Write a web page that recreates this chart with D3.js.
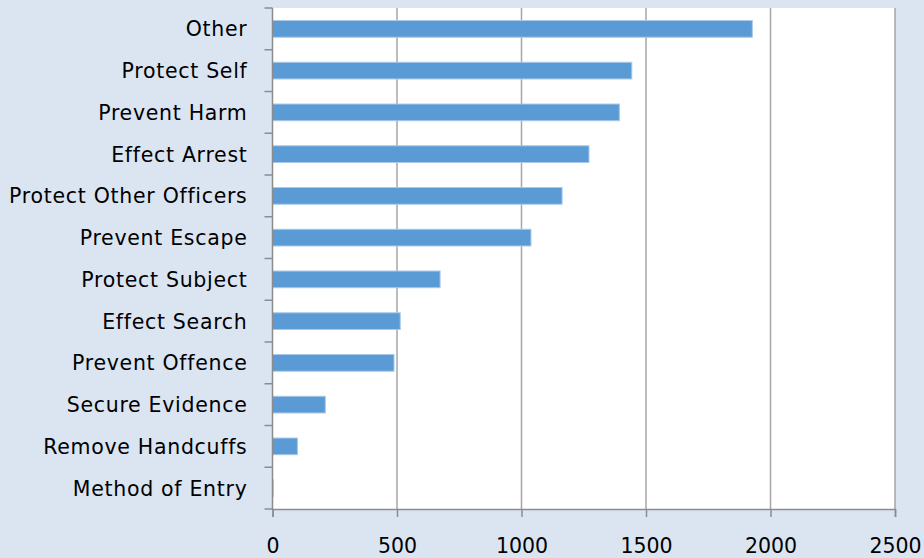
<!DOCTYPE html>
<html>
<head>
<meta charset="utf-8">
<script src="https://cdn.jsdelivr.net/npm/d3@7"></script>
<style>
  html, body { margin: 0; padding: 0; background: #dbe5f2; }
  svg { display: block; }
</style>
</head>
<body>
<div id="chart"></div>
<script>
// Use of force reasons, horizontal bar chart
const categories = [
  'Other', 'Protect Self', 'Prevent Harm', 'Effect Arrest',
  'Protect Other Officers', 'Prevent Escape', 'Protect Subject',
  'Effect Search', 'Prevent Offence', 'Secure Evidence',
  'Remove Handcuffs', 'Method of Entry'
];
const values = [1927, 1443, 1393, 1271, 1163, 1038, 673, 513, 488, 212, 100, 3];
const xTicks = [0, 500, 1000, 1500, 2000, 2500];

(() => {
  const width = 924;
  const height = 558;
  const margin = { top: 8, right: 29, bottom: 49, left: 272.5 };
  const plotW = width - margin.left - margin.right;
  const plotH = height - margin.top - margin.bottom;
  const font = 'DejaVu Sans, sans-serif';

  const svg = d3.select('#chart')
    .append('svg')
    .attr('width', width)
    .attr('height', height);

  svg.append('rect')
    .attr('width', width)
    .attr('height', height)
    .attr('fill', '#dbe5f2');

  const g = svg.append('g').attr('transform', `translate(${margin.left},${margin.top})`);

  const x = d3.scaleLinear().domain([0, 2500]).range([0, plotW]);
  const y = d3.scaleBand().domain(categories).range([0, plotH]).paddingInner(0.6).paddingOuter(0.3);
  const yEdges = d3.scaleLinear().domain([0, categories.length]).range([0, plotH]);

  // plot area
  g.append('rect')
    .attr('width', plotW)
    .attr('height', plotH)
    .attr('fill', '#ffffff');

  // vertical gridlines
  g.selectAll('.grid')
    .data(xTicks.slice(1))
    .join('line')
    .attr('x1', d => x(d))
    .attr('x2', d => x(d))
    .attr('y1', 0)
    .attr('y2', plotH)
    .attr('stroke', '#a6a6a6')
    .attr('stroke-width', 1.5);

  // bars
  g.selectAll('.bar')
    .data(values)
    .join('rect')
    .attr('x', 0)
    .attr('y', (d, i) => y(categories[i]))
    .attr('width', d => x(d))
    .attr('height', y.bandwidth())
    .attr('fill', '#5b9bd5')
    .attr('stroke', '#a9c8ea')
    .attr('stroke-width', 1);

  // x axis
  const xAxis = g.append('g')
    .attr('transform', `translate(0,${plotH})`)
    .call(d3.axisBottom(x).tickValues(xTicks).tickSize(8).tickPadding(21).tickFormat(d3.format('d')));
  xAxis.select('.domain').attr('stroke', '#8c8c8c').attr('stroke-width', 1.5);
  xAxis.selectAll('.tick line').attr('stroke', '#8c8c8c').attr('stroke-width', 1.5);
  xAxis.selectAll('text')
    .attr('fill', '#000')
    .attr('font-family', font)
    .attr('font-size', 20.5);

  // y axis: ticks at category edges
  const yAxisG = g.append('g');
  yAxisG.append('line')
    .attr('x1', 0).attr('x2', 0)
    .attr('y1', 0).attr('y2', plotH)
    .attr('stroke', '#8c8c8c')
    .attr('stroke-width', 1.5);
  yAxisG.selectAll('.ytick')
    .data(d3.range(categories.length + 1))
    .join('line')
    .attr('x1', -8).attr('x2', 0)
    .attr('y1', d => yEdges(d))
    .attr('y2', d => yEdges(d))
    .attr('stroke', '#8c8c8c')
    .attr('stroke-width', 1.5);
  yAxisG.selectAll('.ylabel')
    .data(categories)
    .join('text')
    .attr('x', -25)
    .attr('y', d => y(d) + y.bandwidth() / 2)
    .attr('dy', '0.36em')
    .attr('text-anchor', 'end')
    .attr('fill', '#000')
    .attr('font-family', font)
    .attr('font-size', 20.5)
    .attr('letter-spacing', 0.7)
    .text(d => d);
})();
</script>
</body>
</html>
